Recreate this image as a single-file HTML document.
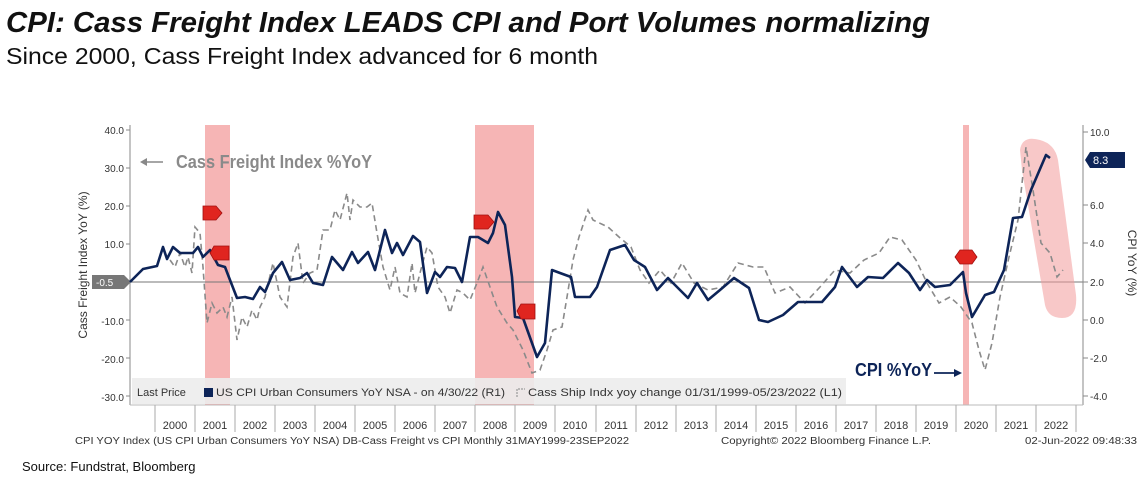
<!DOCTYPE html>
<html><head><meta charset="utf-8"><style>html,body{margin:0;padding:0;background:#fff}svg{display:block}</style></head>
<body>
<svg width="1142" height="483" viewBox="0 0 1142 483" xmlns="http://www.w3.org/2000/svg" font-family="Liberation Sans, Arial, sans-serif">
<rect width="1142" height="483" fill="#fff"/>
<text x="6" y="32" font-size="29" font-weight="bold" font-style="italic" textLength="924" lengthAdjust="spacingAndGlyphs" fill="#111">CPI: Cass Freight Index LEADS CPI and Port Volumes normalizing</text>
<text x="6" y="64" font-size="23" textLength="592" lengthAdjust="spacingAndGlyphs" fill="#111">Since 2000, Cass Freight Index advanced for 6 month</text>

<!-- recession bands -->
<rect x="205" y="125" width="25" height="280" fill="#f4a3a3" opacity="0.8"/>
<rect x="475" y="125" width="59" height="280" fill="#f4a3a3" opacity="0.8"/>
<rect x="963" y="125" width="6" height="280" fill="#f4a3a3" opacity="0.8"/>

<!-- legend bar -->
<rect x="132" y="378" width="714" height="26" fill="#ececec" opacity="0.9"/>
<text x="137" y="396" font-size="11" fill="#333">Last Price</text>
<rect x="204" y="388" width="9" height="9" fill="#0d2458"/>
<text x="216" y="396" font-size="11" fill="#333" textLength="289" lengthAdjust="spacingAndGlyphs">US CPI Urban Consumers YoY NSA -  on 4/30/22  (R1)</text>
<path d="M517 397 V389 H525" fill="none" stroke="#888" stroke-width="1" stroke-dasharray="2,1"/>
<text x="528" y="396" font-size="11" fill="#333" textLength="314" lengthAdjust="spacingAndGlyphs">Cass Ship Indx yoy change 01/31/1999-05/23/2022   (L1)</text>

<!-- zero line -->
<line x1="130" y1="282" x2="1083" y2="282" stroke="#777" stroke-width="1"/>

<!-- axes -->
<line x1="130" y1="125" x2="130" y2="405" stroke="#888"/>
<line x1="1083" y1="125" x2="1083" y2="405" stroke="#888"/>
<line x1="130" y1="405" x2="1083" y2="405" stroke="#bbb"/>
<g font-size="10" fill="#333" text-anchor="end">
<text x="124" y="134">40.0</text><text x="124" y="172">30.0</text><text x="124" y="210">20.0</text><text x="124" y="248">10.0</text>
<text x="124" y="325">-10.0</text><text x="124" y="363">-20.0</text><text x="124" y="401">-30.0</text>
</g>
<g stroke="#888"><line x1="126" y1="130" x2="130" y2="130"/><line x1="126" y1="168" x2="130" y2="168"/><line x1="126" y1="206" x2="130" y2="206"/><line x1="126" y1="244" x2="130" y2="244"/><line x1="126" y1="320" x2="130" y2="320"/><line x1="126" y1="358" x2="130" y2="358"/><line x1="126" y1="396" x2="130" y2="396"/>
<line x1="1083" y1="132" x2="1088" y2="132"/><line x1="1083" y1="205" x2="1088" y2="205"/><line x1="1083" y1="243" x2="1088" y2="243"/><line x1="1083" y1="282" x2="1088" y2="282"/><line x1="1083" y1="320" x2="1088" y2="320"/><line x1="1083" y1="358" x2="1088" y2="358"/><line x1="1083" y1="396" x2="1088" y2="396"/></g>
<g font-size="10" fill="#333">
<text x="1090" y="136">10.0</text><text x="1090" y="209">6.0</text><text x="1090" y="247">4.0</text><text x="1090" y="286">2.0</text><text x="1090" y="324">0.0</text><text x="1090" y="362">-2.0</text><text x="1090" y="400">-4.0</text>
</g>
<text transform="translate(87,265) rotate(-90)" font-size="12" fill="#333" text-anchor="middle">Cass Freight Index YoY (%)</text>
<text transform="translate(1128,263) rotate(90)" font-size="12" fill="#333" text-anchor="middle">CPI YoY (%)</text>

<!-- -0.5 tag -->
<path d="M92 275 H124 L131 282 L124 289 H92 Z" fill="#777"/>
<text x="96" y="286" font-size="10" fill="#fff">-0.5</text>
<!-- 8.3 tag -->
<path d="M1085 160 L1090 152 H1125 V168 H1090 Z" fill="#0d2458"/>
<text x="1093" y="164" font-size="11" fill="#fff">8.3</text>

<!-- year axis -->
<g stroke="#aaa">
<line x1="155" y1="405" x2="155" y2="432"/><line x1="195" y1="405" x2="195" y2="432"/><line x1="235" y1="405" x2="235" y2="432"/><line x1="275" y1="405" x2="275" y2="432"/><line x1="315" y1="405" x2="315" y2="432"/><line x1="355" y1="405" x2="355" y2="432"/><line x1="395" y1="405" x2="395" y2="432"/><line x1="435" y1="405" x2="435" y2="432"/><line x1="475" y1="405" x2="475" y2="432"/><line x1="515" y1="405" x2="515" y2="432"/><line x1="555" y1="405" x2="555" y2="432"/><line x1="596" y1="405" x2="596" y2="432"/><line x1="636" y1="405" x2="636" y2="432"/><line x1="676" y1="405" x2="676" y2="432"/><line x1="716" y1="405" x2="716" y2="432"/><line x1="756" y1="405" x2="756" y2="432"/><line x1="796" y1="405" x2="796" y2="432"/><line x1="836" y1="405" x2="836" y2="432"/><line x1="876" y1="405" x2="876" y2="432"/><line x1="916" y1="405" x2="916" y2="432"/><line x1="956" y1="405" x2="956" y2="432"/><line x1="996" y1="405" x2="996" y2="432"/><line x1="1036" y1="405" x2="1036" y2="432"/><line x1="1076" y1="405" x2="1076" y2="432"/>
</g>
<g font-size="11" fill="#333" text-anchor="middle">
<text x="175" y="429">2000</text><text x="215" y="429">2001</text><text x="255" y="429">2002</text><text x="295" y="429">2003</text><text x="335" y="429">2004</text><text x="375" y="429">2005</text><text x="415" y="429">2006</text><text x="455" y="429">2007</text><text x="495" y="429">2008</text><text x="535" y="429">2009</text><text x="575" y="429">2010</text><text x="616" y="429">2011</text><text x="656" y="429">2012</text><text x="696" y="429">2013</text><text x="736" y="429">2014</text><text x="776" y="429">2015</text><text x="816" y="429">2016</text><text x="856" y="429">2017</text><text x="896" y="429">2018</text><text x="936" y="429">2019</text><text x="976" y="429">2020</text><text x="1016" y="429">2021</text><text x="1056" y="429">2022</text>
</g>
<text x="75" y="444" font-size="10" fill="#333" textLength="554" lengthAdjust="spacingAndGlyphs">CPI YOY Index (US CPI Urban Consumers YoY NSA) DB-Cass Freight vs CPI  Monthly 31MAY1999-23SEP2022</text>
<text x="721" y="444" font-size="10" fill="#333" textLength="210" lengthAdjust="spacingAndGlyphs">Copyright© 2022 Bloomberg Finance L.P.</text>
<text x="1025" y="444" font-size="10" fill="#333" textLength="112" lengthAdjust="spacingAndGlyphs">02-Jun-2022 09:48:33</text>
<text x="22" y="471" font-size="13" fill="#111">Source: Fundstrat, Bloomberg</text>

<!-- pink highlight -->
<path d="M1020 150 Q1022 135 1040 140 Q1055 144 1058 160 L1076 295 Q1078 318 1062 318 Q1048 318 1045 305 L1022 170 Z" fill="#f29a9a" opacity="0.55"/>

<!-- Cass dashed -->
<polyline fill="none" stroke="#8a8a8a" stroke-width="1.6" stroke-dasharray="6,4" points="170,260 175,267 180,253 185,267 188,257 192,273 195,227 200,233 203,267 207,323 212,303 217,313 223,307 227,317 232,297 237,340 242,317 247,327 252,310 257,320 260,307 265,297 273,263 280,297 287,307 293,257 298,243 303,283 310,273 317,270 323,230 330,230 335,210 340,220 347,193 350,220 353,200 360,207 367,207 372,203 377,233 383,267 390,290 395,267 400,293 407,297 412,263 415,293 420,273 427,247 432,253 438,287 445,297 450,313 457,290 463,293 470,300 477,283 483,267 490,287 497,307 507,323 513,330 523,350 532,373 540,370 547,350 553,330 562,327 567,297 573,260 579,237 588,210 593,220 608,227 619,237 631,247 640,270 649,283 660,270 671,283 682,263 694,283 708,290 723,287 738,263 753,267 764,267 775,293 790,287 805,303 820,287 835,270 850,273 864,260 879,253 890,237 902,240 916,260 927,283 939,303 950,297 961,307 972,323 979,350 985,370 992,343 1000,297 1009,257 1018,220 1026,147 1033,190 1041,243 1050,253 1057,277 1063,270"/>

<!-- CPI solid -->
<polyline fill="none" stroke="#0d2458" stroke-width="2.6" stroke-linejoin="round" points="130,282 143,269 157,266 163,247 167,259 173,247 180,253 193,253 198,247 203,257 210,250 218,265 225,267 230,280 237,298 245,297 253,299 260,287 265,292 273,273 282,262 290,280 300,278 307,273 313,283 323,285 332,257 343,270 352,252 358,263 368,252 375,270 385,230 392,253 397,243 403,255 413,236 420,242 427,293 435,272 440,277 447,267 455,268 462,282 470,237 478,237 488,243 493,233 498,212 505,225 512,277 515,317 523,318 537,357 545,343 552,270 560,273 571,277 575,297 590,297 597,287 610,250 625,245 634,260 645,267 657,290 668,278 675,285 688,298 697,283 708,300 720,290 734,278 749,288 759,320 768,322 783,315 798,302 807,302 822,302 835,287 842,267 857,287 868,277 883,278 898,263 909,273 920,290 927,280 935,287 950,285 963,272 966,293 972,317 985,295 994,292 1004,270 1013,218 1022,217 1031,190 1046,155 1050,158"/>

<!-- REC markers -->
<g fill="#e0251f" stroke="#a01010" stroke-width="0.8">
<path d="M203 206 H216 L222 213 L216 220 H203 Z"/>
<path d="M214 246 H229 V260 H214 L210 253 Z"/>
<path d="M474 215 H488 L494 222 L488 229 H474 Z"/>
<path d="M521 304 H535 V319 H521 L517 311 Z"/>
<path d="M955 257 L960 250 H972 L977 257 L972 264 H960 Z"/>
</g>

<!-- annotations -->
<line x1="142" y1="162" x2="163" y2="162" stroke="#888" stroke-width="1.5"/>
<path d="M140 162 L147 158 L147 166 Z" fill="#888"/>
<text x="176" y="168" font-size="18" font-weight="bold" fill="#8a8a8a" textLength="196" lengthAdjust="spacingAndGlyphs">Cass Freight Index %YoY</text>
<text x="855" y="376" font-size="18" font-weight="bold" fill="#0d2458" textLength="77" lengthAdjust="spacingAndGlyphs">CPI %YoY</text>
<line x1="934" y1="373" x2="956" y2="373" stroke="#0d2458" stroke-width="1.8"/>
<path d="M962 373 L954 369 L954 377 Z" fill="#0d2458"/>
</svg>
</body></html>
